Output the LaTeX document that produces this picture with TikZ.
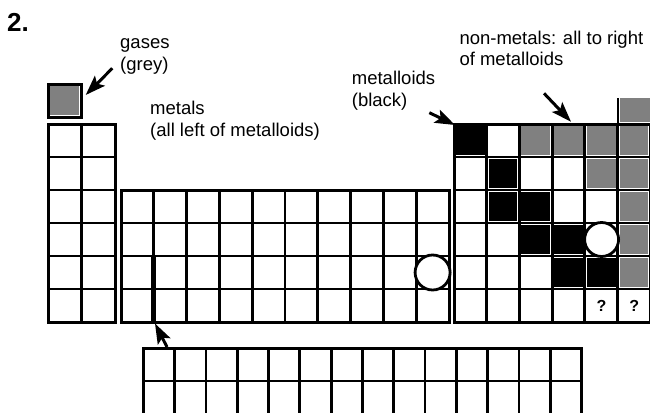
\documentclass[tikz,border=0pt]{standalone}
\usepackage{fontspec}
\setmainfont{Liberation Sans}
\usetikzlibrary{arrows.meta}
\definecolor{gascol}{gray}{0.5}
\tikzset{
  gridline/.style={line width=2.8pt},
  outline/.style={line width=3pt},
  ptr/.style={line width=3pt, -{Stealth[length=20pt,width=14pt,inset=4pt]}},
  lbl/.style={font=\fontsize{18.5}{21.8}\selectfont, align=left, anchor=base west, inner sep=0pt},
  qmark/.style={font=\bfseries\fontsize{16}{16}\selectfont, inner sep=0pt},
  ring/.style={line width=2.8pt, fill=white, draw=black}
}
\begin{document}
\begin{tikzpicture}[x=1pt,y=-1pt]
\useasboundingbox (0,0) rectangle (650,412);
% title
\node[font=\bfseries\fontsize{26}{26}\selectfont, anchor=base west, inner sep=0pt] (title) at (7,31.7) {2.};
% ---------- left block ----------
\fill[gascol] (50.2,86.2) rectangle (79.3,114.8);
\draw[outline] (48,84) rectangle (81.5,117);
\foreach \j in {1,...,5} \draw[gridline] (48,{124+\j*33}) -- (115,{124+\j*33});
\draw[gridline] (81.5,124) -- (81.5,322);
\draw[outline] (48,124) rectangle (115,322);
% ---------- middle block ----------
\foreach \i in {1,...,9} \draw[gridline] ({121+\i*32.8},190) -- ({121+\i*32.8},322);
\foreach \j in {1,...,3} \draw[gridline] (121,{190+\j*33}) -- (449,{190+\j*33});
\draw[outline] (121,190) rectangle (449,322);
\draw[line width=5pt] (153.8,256) -- (153.8,322);
\node[ring, circle, minimum size=35pt, inner sep=0pt] (c1) at (432.6,272.5) {};
% ---------- right block ----------
\foreach \c/\r/\col in {1/1/black,3/1/gascol,4/1/gascol,5/1/gascol,6/1/gascol,
  2/2/black,5/2/gascol,6/2/gascol,
  2/3/black,3/3/black,6/3/gascol,
  3/4/black,4/4/black,6/4/gascol,
  4/5/black,5/5/black,6/5/gascol}
  \fill[\col] ({454+(\c-1)*32.7+2},{124+(\r-1)*33+2}) rectangle ++(28.7,29);
\fill[gascol] (619.8,98) rectangle (651,122.2);
\draw[gridline] (618,98) -- (618,124);
\foreach \i in {1,...,5} \draw[gridline] ({454+\i*32.7},124) -- ({454+\i*32.7},322);
\foreach \j in {1,...,5} \draw[gridline] (454,{124+\j*33}) -- (650.2,{124+\j*33});
\draw[outline] (454,124) rectangle (650.2,322);
\node[ring, circle, minimum size=34pt, inner sep=0pt] (c2) at (601.6,239.5) {};
\node[qmark] (q1) at (601.6,305.5) {?};
\node[qmark] (q2) at (634.3,305.5) {?};
% ---------- bottom block ----------
\foreach \i in {1,...,13} \draw[gridline] ({143.3+\i*31.3},348) -- ({143.3+\i*31.3},416);
\draw[gridline] (143.3,381) -- (581.5,381);
\draw[outline] (143.3,416) -- (143.3,348) -- (581.5,348) -- (581.5,416);
% ---------- labels ----------
\node[lbl] (gases) at (120,70.7) {gases\\(grey)};
\node[lbl] (metals) at (150,136.7) {metals\\(all left of metalloids)};
\node[lbl] (metalloids) at (351.7,106.7) {metalloids\\(black)};
\node[lbl] (nonmetals) at (459.3,66) {non-metals: all to right\\of metalloids};
% ---------- arrows ----------
\coordinate (gT) at (112.3,68.3);  \coordinate (gH) at (85.7,95);
\coordinate (mT) at (429.3,112.7); \coordinate (mH) at (455,125);
\coordinate (nT) at (544,93.3);    \coordinate (nH) at (571,121.7);
\coordinate (bT) at (167,347);     \coordinate (bH) at (155,323.5);
\draw[ptr] (gT) -- (gH);
\draw[ptr] (mT) -- (mH);
\draw[ptr] (nT) -- (nH);
\draw[ptr] (bT) -- (bH);
\end{tikzpicture}
\end{document}
